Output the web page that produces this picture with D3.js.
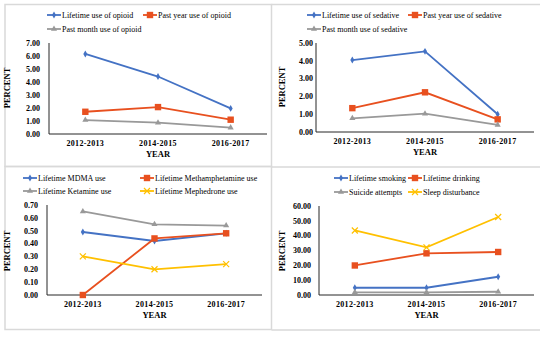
<!doctype html>
<html lang="en">
<head>
    <meta charset="utf-8">
    <title>Substance use trends</title>
    <script src="https://cdnjs.cloudflare.com/ajax/libs/d3/7.8.5/d3.min.js"></script>
    <style>
        body { margin: 0; background: #fff; }
        text { font-family: "Liberation Serif", "Times New Roman", serif; fill: #000; }
        .tick-label { font-size: 8px; font-weight: bold; }
        .axis-title { font-size: 8.5px; font-weight: bold; }
        .legend text { font-size: 8px; }
    </style>
</head>
<body>
<div id="chart"></div>
<script>
// shared categories
var years = ["2012-2013", "2014-2015", "2016-2017"];

// panel 1: opioid
var opioidNames = ["Lifetime use of opioid", "Past year use of opioid", "Past month use of opioid"];
var opioidLifetime = [6.16, 4.42, 1.97];
var opioidPastYear = [1.71, 2.07, 1.10];
var opioidPastMonth = [1.07, 0.87, 0.49];
var opioidTicks = [0, 1, 2, 3, 4, 5, 6, 7];

// panel 2: sedative
var sedativeNames = ["Lifetime use of sedative", "Past year use of sedative", "Past month use of sedative"];
var sedativeLifetime = [4.04, 4.53, 1.00];
var sedativePastYear = [1.34, 2.23, 0.71];
var sedativePastMonth = [0.77, 1.03, 0.40];
var sedativeTicks = [0, 1, 2, 3, 4, 5];

// panel 3: club drugs
var drugNames = ["Lifetime MDMA use", "Lifetime Methamphetamine use", "Lifetime Ketamine use", "Lifetime Mephedrone use"];
var mdmaUse = [0.49, 0.42, 0.48];
var methUse = [0.00, 0.44, 0.48];
var ketamineUse = [0.65, 0.55, 0.54];
var mephedroneUse = [0.30, 0.20, 0.24];
var drugTicks = [0, 0.1, 0.2, 0.3, 0.4, 0.5, 0.6, 0.7];

// panel 4: behaviours
var behaviourNames = ["Lifetime smoking", "Lifetime drinking", "Suicide attempts", "Sleep disturbance"];
var smoking = [4.9, 4.9, 12.3];
var drinking = [19.9, 28.1, 29.0];
var suicide = [1.8, 1.8, 2.2];
var sleepDisturbance = [43.5, 32.1, 52.6];
var behaviourTicks = [0, 10, 20, 30, 40, 50, 60];

var colors = {
    blue: "#4472c4",
    orange: "#e8501f",
    gray: "#999999",
    yellow: "#ffc000"
};

var svg = d3.select("#chart")
    .append("svg")
    .attr("width", 550)
    .attr("height", 337);

// panel frames
var frame = svg.append("g")
    .attr("fill", "none")
    .attr("stroke", "#d9d9d9")
    .attr("stroke-width", 1.5);
frame.append("rect").attr("x", 5).attr("y", 4.5).attr("width", 266.5).attr("height", 162);
frame.append("rect").attr("x", 5).attr("y", 166.5).attr("width", 266.5).attr("height", 163);
frame.append("line").attr("x1", 271.5).attr("x2", 540).attr("y1", 4.5).attr("y2", 4.5);
frame.append("line").attr("x1", 271.5).attr("x2", 540).attr("y1", 167).attr("y2", 167);
frame.append("line").attr("x1", 271.5).attr("x2", 540).attr("y1", 330).attr("y2", 330);

function drawMarker(g, type, color, x, y) {
    if (type === "diamond") {
        g.append("path")
            .attr("d", d3.symbol().type(d3.symbolDiamond).size(14)())
            .attr("transform", "translate(" + x + "," + y + ")")
            .attr("fill", color);
    } else if (type === "square") {
        g.append("rect")
            .attr("x", x - 3.2).attr("y", y - 3.2)
            .attr("width", 6.4).attr("height", 6.4)
            .attr("fill", color);
    } else if (type === "triangle") {
        g.append("path")
            .attr("d", d3.symbol().type(d3.symbolTriangle).size(16)())
            .attr("transform", "translate(" + x + "," + y + ")")
            .attr("fill", color);
    } else if (type === "cross") {
        g.append("path")
            .attr("d", "M-3,-3L3,3M-3,3L3,-3")
            .attr("transform", "translate(" + x + "," + y + ")")
            .attr("stroke", color)
            .attr("stroke-width", 1.2);
    }
}

function drawPanel(config) {
    var g = svg.append("g");

    var xScale = d3.scalePoint()
        .domain(years)
        .range([config.left, config.right])
        .padding(0.5);

    var yScale = d3.scaleLinear()
        .domain([0, config.ticks[config.ticks.length - 1]])
        .range([config.bottom, config.top]);

    // axis lines
    g.append("line")
        .attr("x1", config.left).attr("x2", config.left)
        .attr("y1", config.top).attr("y2", config.bottom)
        .attr("stroke", "#262626").attr("stroke-width", 1);
    g.append("line")
        .attr("x1", config.left).attr("x2", config.right)
        .attr("y1", config.bottom).attr("y2", config.bottom)
        .attr("stroke", "#262626").attr("stroke-width", 1);

    // y tick labels
    g.selectAll("text.ytick")
        .data(config.ticks)
        .enter()
        .append("text")
        .attr("class", "tick-label")
        .attr("x", config.left - config.tickGap)
        .attr("y", function(d) { return yScale(d); })
        .attr("dy", "0.35em")
        .attr("text-anchor", "end")
        .text(function(d) { return d.toFixed(2); });

    // x tick labels
    g.selectAll("text.xtick")
        .data(years)
        .enter()
        .append("text")
        .attr("class", "tick-label")
        .attr("x", function(d) { return xScale(d); })
        .attr("y", config.bottom + 11.5)
        .attr("text-anchor", "middle")
        .attr("letter-spacing", "0.35px")
        .text(function(d) { return d; });

    // axis titles
    g.append("text")
        .attr("class", "axis-title")
        .attr("x", (config.left + config.right) / 2)
        .attr("y", config.bottom + 22.5)
        .attr("text-anchor", "middle")
        .text("YEAR");
    g.append("text")
        .attr("class", "axis-title")
        .attr("transform", "translate(" + (config.yLabelX + 3) + "," + config.yLabelY + ") rotate(-90)")
        .attr("text-anchor", "middle")
        .text("PERCENT");

    var line = d3.line()
        .x(function(d, i) { return xScale(years[i]); })
        .y(function(d) { return yScale(d); });

    config.series.forEach(function(s) {
        g.append("path")
            .datum(s.values)
            .attr("d", line)
            .attr("fill", "none")
            .attr("stroke", s.color)
            .attr("stroke-width", 1.8);
        s.values.forEach(function(v, i) {
            drawMarker(g, s.marker, s.color, xScale(years[i]), yScale(v));
        });
    });

    // legend
    var legend = g.append("g").attr("class", "legend");
    config.series.forEach(function(s, i) {
        var lx = config.legendX[i % 2];
        var ly = config.legendY[Math.floor(i / 2)];
        legend.append("line")
            .attr("x1", lx).attr("x2", lx + 14)
            .attr("y1", ly).attr("y2", ly)
            .attr("stroke", s.color).attr("stroke-width", 1.8);
        drawMarker(legend, s.marker, s.color, lx + 7, ly);
        legend.append("text")
            .attr("x", lx + 15)
            .attr("y", ly)
            .attr("dy", "0.33em")
            .text(s.name);
    });
}

drawPanel({
    left: 49, right: 267, top: 43, bottom: 134, tickGap: 9,
    ticks: opioidTicks, yLabelX: 7, yLabelY: 88,
    legendX: [47, 143], legendY: [15, 29],
    series: [
        { name: opioidNames[0], values: opioidLifetime, color: colors.blue, marker: "diamond" },
        { name: opioidNames[1], values: opioidPastYear, color: colors.orange, marker: "square" },
        { name: opioidNames[2], values: opioidPastMonth, color: colors.gray, marker: "triangle" }
    ]
});

drawPanel({
    left: 316, right: 534, top: 43, bottom: 132, tickGap: 3,
    ticks: sedativeTicks, yLabelX: 282, yLabelY: 87,
    legendX: [307, 408], legendY: [15, 29],
    series: [
        { name: sedativeNames[0], values: sedativeLifetime, color: colors.blue, marker: "diamond" },
        { name: sedativeNames[1], values: sedativePastYear, color: colors.orange, marker: "square" },
        { name: sedativeNames[2], values: sedativePastMonth, color: colors.gray, marker: "triangle" }
    ]
});

drawPanel({
    left: 47, right: 262, top: 205, bottom: 295, tickGap: 9,
    ticks: drugTicks, yLabelX: 7, yLabelY: 251,
    legendX: [23, 140], legendY: [178, 191],
    series: [
        { name: drugNames[0], values: mdmaUse, color: colors.blue, marker: "diamond" },
        { name: drugNames[1], values: methUse, color: colors.orange, marker: "square" },
        { name: drugNames[2], values: ketamineUse, color: colors.gray, marker: "triangle" },
        { name: drugNames[3], values: mephedroneUse, color: colors.yellow, marker: "cross" }
    ]
});

drawPanel({
    left: 319, right: 534, top: 206, bottom: 295, tickGap: 8,
    ticks: behaviourTicks, yLabelX: 282, yLabelY: 251,
    legendX: [334, 408], legendY: [178, 192],
    series: [
        { name: behaviourNames[0], values: smoking, color: colors.blue, marker: "diamond" },
        { name: behaviourNames[1], values: drinking, color: colors.orange, marker: "square" },
        { name: behaviourNames[2], values: suicide, color: colors.gray, marker: "triangle" },
        { name: behaviourNames[3], values: sleepDisturbance, color: colors.yellow, marker: "cross" }
    ]
});
</script>
</body>
</html>
